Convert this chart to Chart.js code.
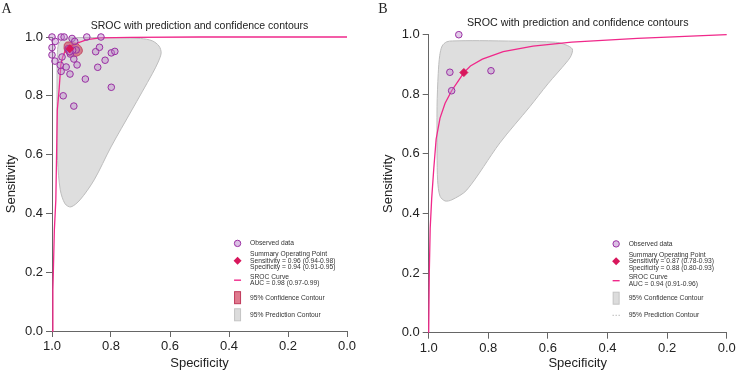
<!DOCTYPE html>
<html>
<head>
<meta charset="utf-8">
<script src="https://cdn.jsdelivr.net/npm/chart.js@4.4.1/dist/chart.umd.min.js"></script>
<style>
html, body { margin: 0; padding: 0; background: #fff; }
body { width: 736px; height: 373px; position: relative; overflow: hidden; }
canvas { position: absolute; top: 0; }
#panelA { left: 0; }
#panelB { left: 368px; }
</style>
</head>
<body>
<canvas id="panelA" width="368" height="373"></canvas>
<canvas id="panelB" width="368" height="373"></canvas>
<script>
// axis ticks (both axes, both panels)
var axisTicks = [0, 0.2, 0.4, 0.6, 0.8, 1.0];

// ---- panel A ----
var obsSpecA = [1.0, 0.969, 0.959, 0.932, 0.882, 0.834, 0.989, 1.0, 0.923, 1.0, 0.990, 0.966, 0.972, 0.952, 0.969, 0.939, 0.915, 0.926, 0.938, 0.918, 0.887, 0.852, 0.839, 0.845, 0.820, 0.799, 0.787, 0.799, 0.962, 0.926, 0.945, 0.930, 0.940];
var obsSensA = [1.0, 1.0, 1.0, 0.995, 1.0, 1.0, 0.985, 0.964, 0.985, 0.939, 0.918, 0.932, 0.904, 0.898, 0.883, 0.874, 0.905, 0.925, 0.942, 0.956, 0.857, 0.950, 0.965, 0.897, 0.921, 0.946, 0.951, 0.829, 0.800, 0.765, 0.960, 0.955, 0.950];
var summarySpecA = [0.94];
var summarySensA = [0.96];
var srocSpecA = [1.0, 0.997, 0.992, 0.987, 0.982, 0.976, 0.970, 0.964, 0.954, 0.939, 0.914, 0.882, 0.837, 0.735, 0.498, 0.0];
var srocSensA = [0.0, 0.139, 0.344, 0.446, 0.752, 0.820, 0.905, 0.932, 0.956, 0.969, 0.979, 0.991, 0.997, 0.999, 1.0, 1.0];
var confSpecA = [0.958, 0.952, 0.940, 0.928, 0.915, 0.903, 0.897, 0.900, 0.910, 0.925, 0.940, 0.952, 0.959, 0.958];
var confSensA = [0.975, 0.982, 0.983, 0.980, 0.978, 0.968, 0.955, 0.945, 0.937, 0.933, 0.936, 0.945, 0.960, 0.975];
var predSpecA = [0.983, 0.983, 0.982, 0.978, 0.965, 0.940, 0.837, 0.700, 0.660, 0.637, 0.630, 0.640, 0.660, 0.729, 0.800, 0.857, 0.905, 0.936, 0.956, 0.972, 0.981, 0.983];
var predSensA = [0.700, 0.860, 0.940, 0.975, 0.991, 0.997, 0.998, 0.995, 0.987, 0.969, 0.946, 0.915, 0.875, 0.752, 0.626, 0.514, 0.446, 0.422, 0.433, 0.480, 0.580, 0.700];
var legendTextA = [
  ['Observed data'],
  ['Summary Operating Point', 'Sensitivity = 0.96 (0.94-0.98)', 'Specificity = 0.94 (0.91-0.95)'],
  ['SROC Curve', 'AUC = 0.98 (0.97-0.99)'],
  ['95% Confidence Contour'],
  ['95% Prediction Contour']
];

// ---- panel B ----
var obsSpecB = [0.899, 0.929, 0.923, 0.791];
var obsSensB = [1.0, 0.874, 0.812, 0.879];
var summarySpecB = [0.882];
var summarySensB = [0.873];
var srocSpecB = [1.0, 0.998, 0.995, 0.990, 0.983, 0.975, 0.962, 0.945, 0.923, 0.900, 0.882, 0.860, 0.820, 0.750, 0.650, 0.520, 0.300, 0.0];
var srocSensB = [0.0, 0.2, 0.35, 0.45, 0.55, 0.65, 0.72, 0.77, 0.812, 0.846, 0.873, 0.895, 0.918, 0.943, 0.962, 0.975, 0.988, 1.0];
var predSpecB = [0.972, 0.972, 0.968, 0.963, 0.955, 0.940, 0.920, 0.830, 0.700, 0.575, 0.540, 0.518, 0.522, 0.537, 0.600, 0.661, 0.761, 0.872, 0.922, 0.945, 0.962, 0.970, 0.972];
var predSensB = [0.600, 0.760, 0.870, 0.930, 0.962, 0.976, 0.979, 0.980, 0.978, 0.975, 0.966, 0.952, 0.930, 0.908, 0.835, 0.758, 0.637, 0.479, 0.446, 0.442, 0.458, 0.510, 0.600];
var legendTextB = [
  ['Observed data'],
  ['Summary Operating Point', 'Sensitivity = 0.87 (0.78-0.93)', 'Specificity = 0.88 (0.80-0.93)'],
  ['SROC Curve', 'AUC = 0.94 (0.91-0.96)'],
  ['95% Confidence Contour'],
  ['95% Prediction Contour']
];

var chartTitle = 'SROC with prediction and confidence contours';

Chart.defaults.font.family = '"Liberation Sans", Arial, sans-serif';

function pts(xs, ys) {
  return xs.map(function (x, i) { return { x: x, y: ys[i] }; });
}

function drawSymbol(ctx, kind, x, y) {
  ctx.save();
  if (kind === 'circle') {
    ctx.beginPath();
    ctx.arc(x, y, 3.2, 0, Math.PI * 2);
    ctx.fillStyle = 'rgba(195,150,210,0.6)';
    ctx.fill();
    ctx.strokeStyle = '#9a2fa3';
    ctx.lineWidth = 1;
    ctx.stroke();
  } else if (kind === 'diamond') {
    ctx.beginPath();
    ctx.moveTo(x, y - 4); ctx.lineTo(x + 4, y); ctx.lineTo(x, y + 4); ctx.lineTo(x - 4, y);
    ctx.closePath();
    ctx.fillStyle = '#d8175c';
    ctx.fill();
  } else if (kind === 'line') {
    ctx.beginPath();
    ctx.moveTo(x - 3.5, y); ctx.lineTo(x + 3.5, y);
    ctx.strokeStyle = '#f0288a';
    ctx.lineWidth = 1.4;
    ctx.stroke();
  } else if (kind === 'redrect') {
    ctx.fillStyle = 'rgba(215,90,115,0.8)';
    ctx.fillRect(x - 3, y - 6, 6, 12);
    ctx.strokeStyle = '#c03a5c';
    ctx.strokeRect(x - 3, y - 6, 6, 12);
  } else if (kind === 'grayrect') {
    ctx.fillStyle = '#dcdcdc';
    ctx.fillRect(x - 3, y - 6, 6, 12);
    ctx.strokeStyle = '#c4c4c4';
    ctx.strokeRect(x - 3, y - 6, 6, 12);
  } else if (kind === 'dots') {
    ctx.fillStyle = '#999';
    [-3, 0, 3].forEach(function (d) { ctx.fillRect(x + d - 0.5, y - 0.5, 1, 1); });
  }
  ctx.restore();
}

var panelDecor = {
  id: 'panelDecor',
  afterDraw: function (chart, args, opts) {
    var ctx = chart.ctx, a = chart.chartArea;
    ctx.save();
    ctx.fillStyle = '#222';
    ctx.font = '14px "Liberation Serif", "DejaVu Serif", serif';
    ctx.textAlign = 'left';
    ctx.textBaseline = 'alphabetic';
    ctx.fillText(opts.letter, opts.letterX, 12.7);

    ctx.font = opts.titleSize + 'px "Liberation Sans", Arial, sans-serif';
    ctx.textAlign = 'center';
    ctx.textBaseline = 'middle';
    ctx.fillText(chartTitle, (a.left + a.right) / 2, a.top - 11.3);

    var sx = a.left + 0.629 * (a.right - a.left);
    var tx = sx + 12.5;
    var y0 = a.top + 0.702 * (a.bottom - a.top);
    var offsets = [0, 17.4, 36.8, 54.3, 71.4];
    ctx.font = '6.7px "Liberation Sans", Arial, sans-serif';
    ctx.textAlign = 'left';
    opts.legendText.forEach(function (lines, i) {
      var y = y0 + offsets[i];
      drawSymbol(ctx, opts.symbols[i], sx, y);
      ctx.fillStyle = '#333';
      var start = y - (lines.length - 1) * 6.6 / 2;
      lines.forEach(function (t, j) { ctx.fillText(t, tx, start + j * 6.6); });
    });
    ctx.restore();
  }
};

function axisConfig(titleText, isX, titlePad) {
  return {
    type: 'linear',
    min: 0,
    max: 1,
    reverse: isX,
    position: isX ? 'bottom' : 'left',
    afterBuildTicks: function (scale) {
      scale.ticks = axisTicks.map(function (v) { return { value: v }; });
    },
    ticks: {
      autoSkip: false,
      maxRotation: 0,
      padding: isX ? 2 : 3,
      color: '#222',
      font: { size: 13 },
      callback: function (value) { return Number(value).toFixed(1); }
    },
    grid: {
      drawOnChartArea: false,
      drawTicks: true,
      tickLength: 6,
      color: '#666'
    },
    border: { display: true, color: '#666', width: 1 },
    title: {
      display: true,
      text: titleText,
      color: '#222',
      font: { size: 13 },
      padding: titlePad
    }
  };
}

function buildPanel(id, p) {
  var datasets = [
    {
      label: 'Summary Operating Point',
      data: pts(p.sumSpec, p.sumSens),
      pointStyle: 'rectRot',
      pointRadius: 4,
      backgroundColor: '#d8175c',
      borderColor: '#d8175c',
      borderWidth: 1,
      showLine: false,
      clip: false
    },
    {
      label: 'Observed data',
      data: pts(p.obsSpec, p.obsSens),
      pointStyle: 'circle',
      pointRadius: 3.3,
      backgroundColor: 'rgba(190,140,205,0.45)',
      borderColor: '#9a2fa3',
      borderWidth: 1,
      showLine: false,
      clip: false
    }
  ];
  if (p.confSpec) {
    datasets.push({
      label: '95% Confidence Contour',
      data: pts(p.confSpec, p.confSens),
      showLine: true,
      fill: 'shape',
      tension: 0.35,
      pointRadius: 0,
      backgroundColor: 'rgba(205,70,95,0.65)',
      borderColor: 'rgba(190,50,80,0.8)',
      borderWidth: 1,
      clip: false
    });
  }
  datasets.push({
    label: 'SROC Curve',
    data: pts(p.srocSpec, p.srocSens),
    showLine: true,
    fill: false,
    tension: 0,
    pointRadius: 0,
    borderColor: '#f0288a',
    borderWidth: 1.3,
    clip: false
  });
  datasets.push({
    label: '95% Prediction Contour',
    data: pts(p.predSpec, p.predSens),
    showLine: true,
    fill: 'shape',
    tension: 0.3,
    pointRadius: 0,
    backgroundColor: '#dedede',
    borderColor: '#bdbdbd',
    borderWidth: 1,
    clip: false
  });

  var xAxis = axisConfig('Specificity', true, { top: 0, bottom: 2 });
  var yAxis = axisConfig('Sensitivity', false, { top: 3.5, bottom: 0 });
  xAxis.afterFit = function (scale) { scale.height = p.xHeight; };
  yAxis.afterFit = function (scale) { scale.width = p.yWidth; };

  return new Chart(document.getElementById(id), {
    type: 'scatter',
    data: { datasets: datasets },
    options: {
      animation: false,
      responsive: false,
      layout: { padding: { left: p.padLeft, right: p.padRight, top: p.padTop, bottom: 0 } },
      scales: { x: xAxis, y: yAxis },
      plugins: {
        legend: { display: false },
        tooltip: { enabled: false },
        panelDecor: {
          letter: p.letter,
          letterX: p.letterX,
          titleSize: p.titleSize,
          legendText: p.legendText,
          symbols: p.symbols
        }
      }
    },
    plugins: [panelDecor]
  });
}

buildPanel('panelA', {
  obsSpec: obsSpecA, obsSens: obsSensA,
  sumSpec: summarySpecA, sumSens: summarySensA,
  srocSpec: srocSpecA, srocSens: srocSensA,
  confSpec: confSpecA, confSens: confSensA,
  predSpec: predSpecA, predSens: predSensA,
  legendText: legendTextA,
  symbols: ['circle', 'diamond', 'line', 'redrect', 'grayrect'],
  letter: 'A', letterX: 1.5, titleSize: 10.5,
  padLeft: 0, yWidth: 52, padRight: 21, padTop: 37, xHeight: 42
});

buildPanel('panelB', {
  obsSpec: obsSpecB, obsSens: obsSensB,
  sumSpec: summarySpecB, sumSens: summarySensB,
  srocSpec: srocSpecB, srocSens: srocSensB,
  predSpec: predSpecB, predSens: predSensB,
  legendText: legendTextB,
  symbols: ['circle', 'diamond', 'line', 'grayrect', 'dots'],
  letter: 'B', letterX: 10.3, titleSize: 10.7,
  padLeft: 8.7, yWidth: 52, padRight: 9.3, padTop: 34.7, xHeight: 40.3
});
</script>
</body>
</html>
